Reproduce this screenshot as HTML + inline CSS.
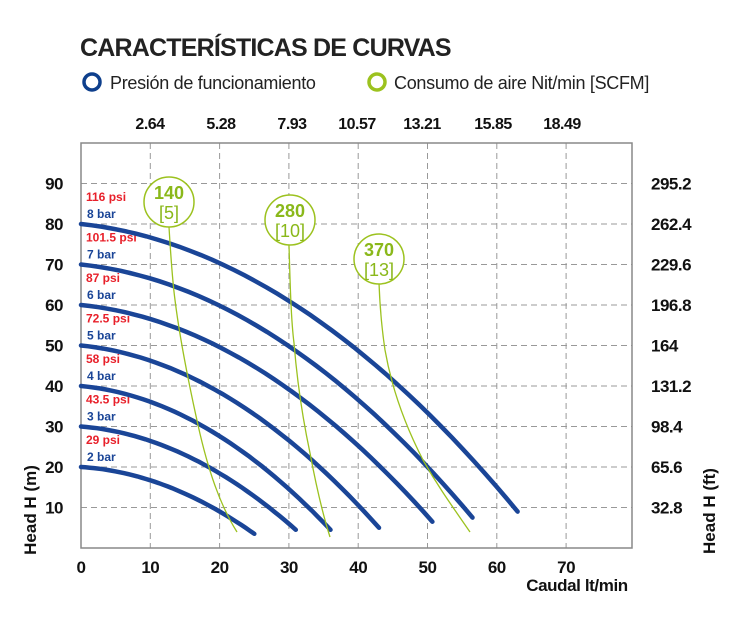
<!DOCTYPE html>
<html><head><meta charset="utf-8"><style>
html,body{margin:0;padding:0;background:#fff;width:741px;height:628px;overflow:hidden}
svg{display:block;font-family:"Liberation Sans",sans-serif}
</style></head><body>
<svg id="s" width="741" height="628" viewBox="0 0 741 628" xmlns="http://www.w3.org/2000/svg">
<text x="80" y="56" font-size="25" font-weight="bold" fill="#222" letter-spacing="-0.8">CARACTERÍSTICAS DE CURVAS</text>
<circle cx="92" cy="82" r="8" fill="none" stroke="#0e3f8c" stroke-width="3.5"/>
<text x="110" y="89" font-size="18" fill="#222" letter-spacing="-0.3">Presión de funcionamiento</text>
<circle cx="377" cy="82" r="8" fill="none" stroke="#9cc21f" stroke-width="3.5"/>
<text x="394" y="89" font-size="18" fill="#222" letter-spacing="-0.3">Consumo de aire Nit/min [SCFM]</text>
<g font-size="16" font-weight="bold" fill="#111" text-anchor="middle" letter-spacing="-0.5">
<text x="150" y="129">2.64</text><text x="221" y="129">5.28</text><text x="292" y="129">7.93</text><text x="357" y="129">10.57</text><text x="422" y="129">13.21</text><text x="493" y="129">15.85</text><text x="562" y="129">18.49</text>
</g>
<g id="grid" stroke="#999" stroke-width="1" stroke-dasharray="6,4"></g>
<rect x="81" y="143" width="551" height="405" fill="none" stroke="#888" stroke-width="1.5"/>
<g id="lab" font-size="17" font-weight="bold" fill="#111" letter-spacing="-0.5"></g>
<g id="curves" fill="none" stroke="#1a4597" stroke-width="4.5" stroke-linecap="round"></g>
<g fill="none" stroke="#9cc21f" stroke-width="1.3">
<path d="M169,227 C171,260 173,285 175,300 C180,340 188,380 198,425 C208,470 220,505 237,532"/>
<path d="M289,245 C290,280 291,320 294,343 C297,380 303,420 310,453 C316,485 323,515 330,537"/>
<path d="M379,283 C380,310 382,330 385,350 C392,390 405,425 423,460 C440,490 455,510 470,532"/>
</g>
<g fill="#fff" stroke="#9cc21f" stroke-width="1.5">
<circle cx="169" cy="202" r="25"/><circle cx="290" cy="220" r="25"/><circle cx="379" cy="259" r="25"/>
</g>
<g fill="#8ab81a" text-anchor="middle">
<text x="169" y="199" font-size="18" font-weight="bold">140</text><text x="169" y="219" font-size="18">[5]</text>
<text x="290" y="217" font-size="18" font-weight="bold">280</text><text x="290" y="237" font-size="18">[10]</text>
<text x="379" y="256" font-size="18" font-weight="bold">370</text><text x="379" y="276" font-size="18">[13]</text>
</g>
<text x="577" y="591" font-size="17" font-weight="bold" fill="#111" text-anchor="middle" letter-spacing="-0.4">Caudal lt/min</text>
<text transform="translate(36,510) rotate(-90)" font-size="17" font-weight="bold" fill="#111" text-anchor="middle">Head H (m)</text>
<text transform="translate(715,511) rotate(-90)" font-size="17" font-weight="bold" fill="#111" text-anchor="middle">Head H (ft)</text>
</svg>
<script>
var NS="http://www.w3.org/2000/svg";
function X(q){return 81+q*6.93}
function Y(h){return 548-h*4.05}
function el(p,t,a,txt){var e=document.createElementNS(NS,t);for(var k in a)e.setAttribute(k,a[k]);if(txt!==undefined)e.textContent=txt;p.appendChild(e);return e}
var g=document.getElementById('grid'),lab=document.getElementById('lab'),cv=document.getElementById('curves');
for(var h=10;h<=90;h+=10){el(g,'line',{x1:81,x2:632,y1:Y(h),y2:Y(h)});
 el(lab,'text',{x:63,y:Y(h)+6,'text-anchor':'end'},h);}
for(var q=10;q<=70;q+=10){el(g,'line',{x1:X(q),x2:X(q),y1:143,y2:548});}
for(var q=0;q<=70;q+=10){el(lab,'text',{x:X(q),y:573,'text-anchor':'middle'},q);}
var ft=["32.8","65.6","98.4","131.2","164","196.8","229.6","262.4","295.2"];
for(var i=0;i<9;i++)el(lab,'text',{x:651,y:Y((i+1)*10)+6},ft[i]);
var C=[[20,25,3.5],[30,31,4.5],[40,36,4.5],[50,43,5],[60,50.7,6.5],[70,56.5,7.5],[80,63,9]];
var psi=["29 psi","43.5 psi","58 psi","72.5 psi","87 psi","101.5 psi","116 psi"];
C.forEach(function(c,i){var H0=c[0],Qm=c[1],He=c[2],d="";
 for(var k=0;k<=40;k++){var t=k/40,hh=H0-(H0-He)*(0.163*t+0.837*t*t);d+=(k?"L":"M")+X(Qm*t).toFixed(1)+","+Y(hh).toFixed(1)}
 el(cv,'path',{d:d});
 el(lab,'text',{x:86,y:Y(H0)-23,fill:'#e8202a','font-size':12,'letter-spacing':0},psi[i]);
 el(lab,'text',{x:87,y:Y(H0)-6,fill:'#1a4597','font-size':12,'letter-spacing':0},(i+2)+" bar");
});
</script>
</body></html>
